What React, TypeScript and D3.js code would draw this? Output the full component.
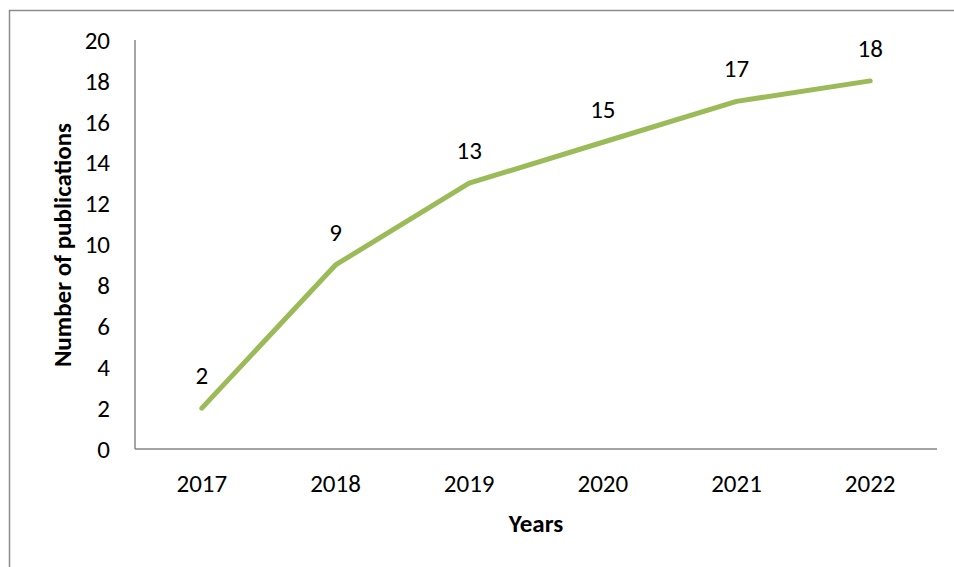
import { useEffect, useRef } from "react";
import * as d3 from "d3";

const years = ["2017", "2018", "2019", "2020", "2021", "2022"];
const publications = [2, 9, 13, 15, 17, 18];
const yTicks = [0, 2, 4, 6, 8, 10, 12, 14, 16, 18, 20];

export default function App() {
  const svgRef = useRef<SVGSVGElement>(null);

  useEffect(() => {
    if (!svgRef.current) return;
    const svg = d3.select(svgRef.current);
    svg.selectAll("*").remove();

    const left = 135, right = 937, top = 40, bottom = 449;
    const font = "Carlito, Calibri, Lato, 'Open Sans', sans-serif";
    const fs = 25;

    // outer frame, partly cropped off like the original
    svg.append("rect")
      .attr("x", 9.5).attr("y", 10.5)
      .attr("width", 1000).attr("height", 600)
      .attr("fill", "none").attr("stroke", "#8c8c8c").attr("stroke-width", 1.5);

    const x = d3.scalePoint<string>().domain(years).range([left, right]).padding(0.5);
    const y = d3.scaleLinear().domain([0, 20]).range([bottom, top]);

    // axes lines
    svg.append("line")
      .attr("x1", left).attr("x2", left).attr("y1", top).attr("y2", bottom)
      .attr("stroke", "#868686").attr("stroke-width", 1.5);
    svg.append("line")
      .attr("x1", left).attr("x2", right).attr("y1", bottom).attr("y2", bottom)
      .attr("stroke", "#868686").attr("stroke-width", 1.5);

    svg.selectAll("text.ytick")
      .data(yTicks)
      .enter()
      .append("text")
      .attr("class", "ytick")
      .attr("x", 110)
      .attr("y", d => y(d))
      .attr("dy", "0.35em")
      .attr("text-anchor", "end")
      .attr("font-family", font)
      .attr("font-size", fs)
      .attr("fill", "#000")
      .text(d => d);

    svg.selectAll("text.xtick")
      .data(years)
      .enter()
      .append("text")
      .attr("class", "xtick")
      .attr("x", d => x(d)!)
      .attr("y", 483)
      .attr("dy", "0.35em")
      .attr("text-anchor", "middle")
      .attr("font-family", font)
      .attr("font-size", fs)
      .attr("fill", "#000")
      .text(d => d);

    const line = d3.line<number>()
      .x((_, i) => x(years[i])!)
      .y(d => y(d));

    svg.append("path")
      .attr("d", line(publications))
      .attr("fill", "none")
      .attr("stroke", "#9bbb59")
      .attr("stroke-width", 5)
      .attr("stroke-linecap", "round")
      .attr("stroke-linejoin", "round");

    svg.selectAll("text.label")
      .data(publications)
      .enter()
      .append("text")
      .attr("class", "label")
      .attr("x", (_, i) => x(years[i])!)
      .attr("y", d => y(d) - 33)
      .attr("dy", "0.35em")
      .attr("text-anchor", "middle")
      .attr("font-family", font)
      .attr("font-size", fs)
      .attr("fill", "#000")
      .text(d => d);

    svg.append("text")
      .attr("x", 536)
      .attr("y", 523)
      .attr("dy", "0.35em")
      .attr("text-anchor", "middle")
      .attr("font-family", font)
      .attr("font-weight", "bold")
      .attr("font-size", fs)
      .text("Years");

    svg.append("text")
      .attr("transform", "translate(62,245) rotate(-90)")
      .attr("dy", "0.35em")
      .attr("text-anchor", "middle")
      .attr("font-family", font)
      .attr("font-weight", "bold")
      .attr("font-size", fs)
      .text("Number of publications");
  }, []);

  return (
    <svg ref={svgRef} width={954} height={567}
      style={{ position: "absolute", left: 0, top: 0, background: "#fff" }} />
  );
}
